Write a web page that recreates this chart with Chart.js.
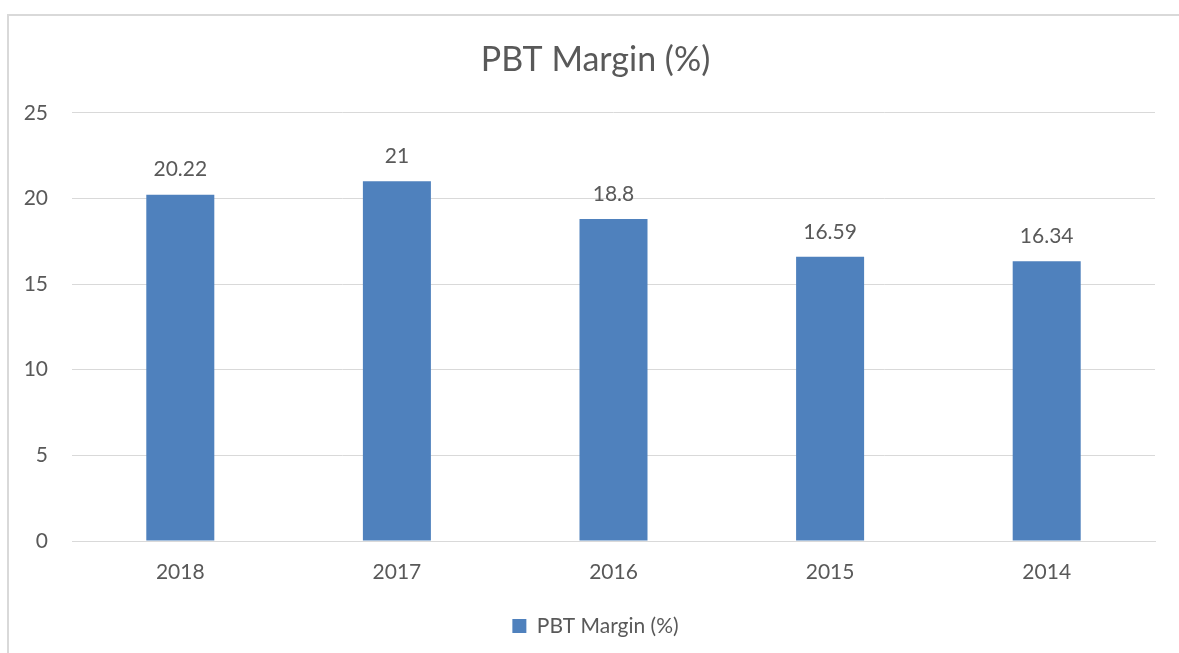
<!DOCTYPE html>
<html>
<head>
<meta charset="utf-8">
<script src="https://cdn.jsdelivr.net/npm/chart.js@4"></script>
<style>
  html, body { margin: 0; padding: 0; background: #fff; }
  #wrap { position: relative; width: 1179px; height: 653px; overflow: hidden; }
  #frame { position: absolute; left: 7px; top: 14px; width: 1200px; height: 700px;
           border-left: 2px solid #d9d9d9; border-top: 2px solid #d9d9d9; }
  canvas { position: absolute; left: 0; top: 0; }
</style>
</head>
<body>
<div id="wrap">
  <div id="frame"></div>
  <canvas id="barChart" width="1179" height="653"></canvas>
</div>
<script>
// data
var years   = ['2018', '2017', '2016', '2015', '2014']
var margins = [20.22, 21, 18.8, 16.59, 16.34]
var yTicks  = [0, 5, 10, 15, 20, 25]

var textColor = '#595959'
var fontFamily = 'Lato, "Open Sans", sans-serif'

// draw the value above each bar
var valueLabels = {
  id: 'valueLabels',
  afterDatasetsDraw: function (chart) {
    var ctx = chart.ctx
    var meta = chart.getDatasetMeta(0)
    ctx.save()
    ctx.fillStyle = textColor
    ctx.font = '21px ' + fontFamily
    ctx.textAlign = 'center'
    ctx.textBaseline = 'middle'
    meta.data.forEach(function (bar, i) {
      ctx.fillText(String(margins[i]), bar.x, bar.y - 25)
    })
    ctx.restore()
  }
}

// centre title and legend over the framed area rather than the whole canvas
var shiftBlocks = {
  id: 'shiftBlocks',
  afterLayout: function (chart) {
    if (chart.titleBlock) chart.titleBlock.left = 36
    if (chart.legend) chart.legend.left = 36
  }
}

var barCanvas = document.getElementById('barChart').getContext('2d')
new Chart(barCanvas, {
  type: 'bar',
  data: {
    labels: years,
    datasets: [{
      label: 'PBT Margin (%)',
      data: margins,
      backgroundColor: '#4f81bd',
      categoryPercentage: 1,
      barPercentage: 0.314
    }]
  },
  options: {
    responsive: false,
    animation: false,
    layout: { padding: { left: 0, right: 24, top: 0, bottom: 6.5 } },
    plugins: {
      title: {
        display: true,
        text: 'PBT Margin (%)',
        color: textColor,
        font: { family: fontFamily, size: 34, weight: 'normal' },
        padding: { top: 40, bottom: 32 }
      },
      legend: {
        position: 'bottom',
        labels: {
          color: textColor,
          boxWidth: 14,
          boxHeight: 14,
          padding: 10,
          font: { family: fontFamily, size: 21 }
        }
      },
      tooltip: { enabled: false }
    },
    scales: {
      x: {
        grid: { display: false, drawTicks: false },
        border: { color: '#d9d9d9', width: 1 },
        ticks: { color: textColor, padding: 19, font: { family: fontFamily, size: 21 } },
        afterFit: function (scale) { scale.height = 64.5 }
      },
      y: {
        min: yTicks[0],
        max: yTicks[yTicks.length - 1],
        grid: { color: '#d9d9d9', drawTicks: false },
        border: { display: false },
        afterBuildTicks: function (scale) {
          scale.ticks = yTicks.map(function (v) { return { value: v } })
        },
        ticks: { color: textColor, padding: 24, font: { family: fontFamily, size: 21 } },
        afterFit: function (scale) { scale.width = 72 }
      }
    }
  },
  plugins: [valueLabels, shiftBlocks]
})
</script>
</body>
</html>
